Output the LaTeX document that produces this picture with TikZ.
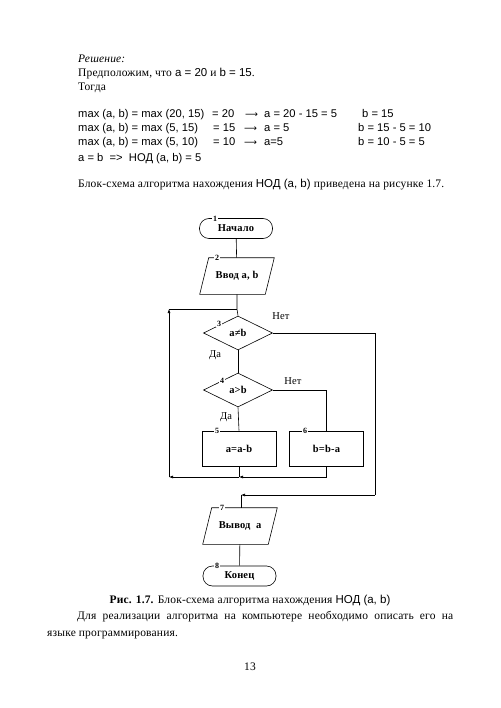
\documentclass[tikz,border=0pt]{standalone}
\usepackage{fontspec}
\setmainfont{Liberation Serif}[LetterSpace=1.5]
\newfontfamily\arialf{Liberation Sans}
\newfontfamily\dejav{DejaVu Sans}
\usetikzlibrary{shapes.geometric,arrows.meta}
\newcommand{\sn}[1]{{\arialf #1}}
\begin{document}
\begin{tikzpicture}[x=1pt,y=-1pt,
  every node/.style={inner sep=0pt},
  base/.style={draw, line width=0.6pt, font=\fontsize{10.5}{12}\selectfont\bfseries},
  term/.style={base, rectangle, rounded corners=9.5pt, minimum width=73pt, minimum height=20pt},
  io/.style={base, draw=none, rectangle, minimum width=65pt, minimum height=36pt},
  dec/.style={base, diamond, aspect=2, minimum width=69pt, minimum height=34pt},
  proc/.style={base, rectangle, minimum width=74pt, minimum height=35pt},
  num/.style={fill=white, inner sep=0.6pt, font=\fontsize{8}{9}\selectfont\bfseries},
  yn/.style={font=\fontsize{10.5}{12}\selectfont},
  ln/.style={line width=0.6pt},
  arr/.style={ln, -{Latex[length=4pt,width=3pt]}},
  txt/.style={anchor=base west, font=\fontsize{11.5}{13}\selectfont},
  stx/.style={anchor=base west, font=\fontsize{11.2}{13}\selectfont\arialf}
]
\useasboundingbox (0,0) rectangle (500,708);
\fill[white] (0,0) rectangle (500,708);

% ---- text above
\node[txt] (t1) at (78,63) {\itshape Решение:};
\node[txt] (t2) at (78,77) {Предположим, что \sn{a = 20} и \sn{b = 15}.};
\node[txt] (t3) at (78,91) {Тогда};
\node[stx] (m1a) at (78,118) {max (a, b) = max (20, 15)};
\node[stx] (m2a) at (78,132) {max (a, b) = max (5, 15)};
\node[stx] (m3a) at (78,146) {max (a, b) = max (5, 10)};
\node[stx] (m1b) at (212,118) {= 20};
\node[stx] (m2b) at (213,132) {= 15};
\node[stx] (m3b) at (213,146) {= 10};
\node[stx] (m1c) at (245,118) {\dejav\fontsize{9}{10}\selectfont ⟶};
\node[stx] (m2c) at (244,132) {\dejav\fontsize{9}{10}\selectfont ⟶};
\node[stx] (m3c) at (244,146) {\dejav\fontsize{9}{10}\selectfont ⟶};
\node[stx] (m1d) at (264,118) {a = 20 - 15 = 5};
\node[stx] (m2d) at (264,132) {a = 5};
\node[stx] (m3d) at (264,146) {a=5};
\node[stx] (m1e) at (362,118) {b = 15};
\node[stx] (m2e) at (358,132) {b = 15 - 5 = 10};
\node[stx] (m3e) at (358,146) {b = 10 - 5 = 5};
\node[stx] (m4) at (78,162) {a = b\ \ =>\ \ НОД (a, b) = 5};
\node[txt] (t4) at (78,188) {Блок-схема алгоритма нахождения \sn{НОД (a, b)} приведена на рисунке 1.7.};

% ---- flowchart
\node[term] (n1) at (236,228.5) {Начало};
\node[io]   (n2) at (237,276) {Ввод a, b};
\coordinate (j1) at (237,309);
\node[dec]  (n3) at (238,333) {a≠b};
\node[dec]  (n4) at (238,390) {a>b};
\node[proc] (n5) at (239,448.5) {a=a-b};
\node[proc] (n6) at (326.5,448.5) {b=b-a};
\node[io]   (n7) at (240,526) {Вывод\ \ a};
\node[term] (n8) at (239.5,576) {Конец};

% parallelogram outlines
\draw[ln] ([xshift=4.5pt]n2.north west) -- ([xshift=4.5pt]n2.north east) -- ([xshift=-4.5pt]n2.south east) -- ([xshift=-4.5pt]n2.south west) -- cycle;
\draw[ln] ([xshift=4.5pt]n7.north west) -- ([xshift=4.5pt]n7.north east) -- ([xshift=-4.5pt]n7.south east) -- ([xshift=-4.5pt]n7.south west) -- cycle;

\coordinate (j2) at (239,477);
\coordinate (c1) at (169,477);
\coordinate (c2) at (169,309);
\coordinate (c3) at (375,495);
\coordinate (j3) at (241,495);

\draw[ln] (n1) -- (n2);
\draw[ln] (n2.south) -- (j1) -- (n3.north);
\draw[ln] (n3.south) -- (n4.north);
\draw[ln] (n4.south) -- (n5.north);
\draw[ln] (n4.east) -| (n6.north);
\draw[ln] (n5.south) -- (j2);
\draw[arr] (n6.south) |- (j2);
\draw[arr] (j2) -- (c1);
\draw[arr] (c1) -- (c2);
\draw[ln] (c2) -- (j1);
\draw[ln] (n3.east) -| (c3);
\draw[arr] (c3) -- (j3);
\draw[ln] (j3) -- (j3 |- n7.north);

\draw[ln] (n7) -- (n8);

\node[yn] (l1) at (281,316) {Нет};
\node[yn] (l2) at (215,355) {Да};
\node[yn] (l3) at (293,381) {Нет};
\node[yn] (l4) at (226,417) {Да};

\node[num] (k1) at (215,218.5) {1};
\node[num] (k2) at (217,258) {2};
\node[num] (k3) at (219,324) {3};
\node[num] (k4) at (222,381) {4};
\node[num] (k5) at (217,431) {5};
\node[num] (k6) at (305,431) {6};
\node[num] (k7) at (222,508) {7};
\node[num] (k8) at (217,566) {8};

% ---- text below
\node[anchor=base, font=\fontsize{11.5}{13}\selectfont] (cap) at (250,603) {\textbf{Рис. 1.7.} Блок-схема алгоритма нахождения \sn{НОД (a, b)}};
\node[txt, text width=376pt, align=justify] (p1) at (77,619) {\parfillskip=0pt Для реализации алгоритма на компьютере необходимо описать его на\par};
\node[txt] (p2) at (47,636) {языке программирования.};
\node[anchor=base, font=\fontsize{11.5}{13}\selectfont] (pg) at (250,670) {13};
\end{tikzpicture}
\end{document}
